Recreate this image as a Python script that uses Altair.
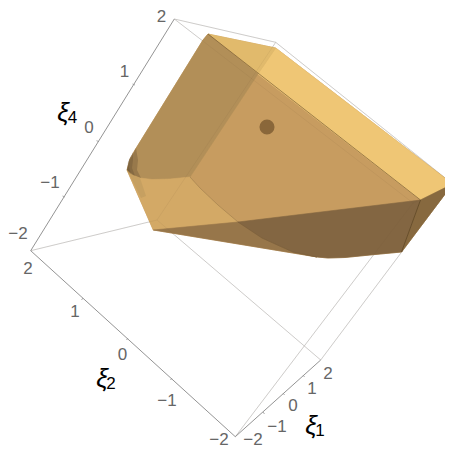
import altair as alt
import pandas as pd

# Projected view coordinates (horizontal, vertical)
P1 = (30.7, 250.7); P2 = (174.3, 19); P3 = (235.3, 436.7); P4 = (320.7, 360)
P5 = (157, 220); P7 = (452.7, 184); P9 = (275.7, 42.3); P10 = (413, 203)

axis_edges = [(P1, P2), (P1, P3), (P3, P4)]
box_edges = [(P1, P5), (P5, P4), (P5, P9), (P2, P9), (P2, P10), (P9, P7), (P7, P4), (P7, P10), (P3, P10)]
axis_ticks = [
    ((135, 85), (132.5, 84)), ((99, 141.7), (96.5, 140.7)), ((65, 197), (62.5, 196)),
    ((83, 298), (81.5, 300)), ((128, 338), (126.5, 340)), ((172, 378), (170.5, 380)),
    ((263, 412), (264.5, 414)), ((283, 393), (284.5, 395)), ((303, 375), (304.5, 377)),
]

left_curve = [(208, 34), (203, 40), (135, 150), (130, 159), (127, 170)]
lower_curve = [(127, 170), (133, 175), (140, 178), (152, 179.5), (170, 179), (190, 177)]
arc = [(190, 177), (200, 188), (218, 205), (238, 222), (262, 238), (293, 252), (317, 257)]

faces = [
    ("silhouette", "#C79C60", [(208, 34), (275.7, 48), (452.7, 184), (401.5, 252), (375, 254.5), (345, 257.5), (328, 258), (317, 257), (153.3, 230), (127, 170), (130, 159), (135, 150), (203, 40)]),
    ("top", "#EFC675", [(275.7, 48), (452.7, 184), (420.5, 200), (258, 74)]),
    ("topleft", "#E1BA6C", [(208, 34), (275.7, 48), (258, 74)]),
    ("left", "#B28F58", left_curve + lower_curve[1:] + [(258, 74)]),
    ("lowerlight", "#D3A966", lower_curve + arc[1:4] + [(153.3, 230)]),
    ("bottommid", "#97764A", [(153.3, 230), (238, 222)] + arc[4:]),
    ("dark", "#836642", arc[3:] + [(328, 258), (345, 257.5), (375, 254.5), (401.5, 252), (420.5, 200)]),
    ("right", "#87693F", [(420.5, 200), (452.7, 184), (401.5, 252)]),
]

shade_bands = [
    [(136, 148), (131, 158), (127, 170), (133, 175), (141, 178), (137, 170), (138, 160)],
    [(133, 152), (129, 160), (127, 170), (131, 174), (135, 176), (132, 168), (133, 160)],
    [(131, 156), (128, 162), (127, 170), (129, 173), (131, 174), (129, 167)],
]
lower_band = [(127, 170), (133, 175), (140, 178), (146, 196), (141, 198)]

edge_lines = [
    ((208, 34), (420.5, 200), "#6f5430", 0.7),
    ((420.5, 200), (401.5, 252), "#5f4828", 0.9),
]
arc_color = "#6b5232"

tick_labels = [
    ("2", 161.5, 17), ("1", 124.5, 72), ("0", 89, 128), ("−1", 50, 183), ("−2", 18, 234),
    ("2", 28, 269), ("1", 75, 312), ("0", 122.5, 355), ("−1", 167, 401), ("−2", 219, 440),
    ("2", 328, 374), ("1", 312, 389), ("0", 293, 406), ("−1", 277, 427), ("−2", 253, 440),
]
symbols = [("ξ", 63, 113), ("ξ", 102, 379), ("ξ", 311, 426)]
subscripts = [("4", 72.5, 118), ("2", 111, 384), ("1", 320, 431)]
dot = [(267, 127)]

xs = alt.Scale(domain=[8, 445], nice=False, zero=False)
ys = alt.Scale(domain=[448, 8], nice=False, zero=False)
X = alt.X("x:Q", scale=xs, axis=None)
Y = alt.Y("y:Q", scale=ys, axis=None)


def poly(points, color, opacity=1.0, stroke=True):
    df = pd.DataFrame([{"x": p[0], "y": p[1], "i": k} for k, p in enumerate(points + [points[0]])])
    return alt.Chart(df).mark_line(
        fill=color, stroke=color, strokeWidth=0.6 if stroke else 0, opacity=opacity, interpolate="linear"
    ).encode(x=X, y=Y, order=alt.Order("i:Q"))


def seg(points, color, width=1.0, opacity=1.0):
    df = pd.DataFrame([{"x": p[0], "y": p[1], "i": k} for k, p in enumerate(points)])
    return alt.Chart(df).mark_line(color=color, strokeWidth=width, opacity=opacity).encode(
        x=X, y=Y, order=alt.Order("i:Q")
    )


def text(rows, size, color, font, style=None):
    df = pd.DataFrame([{"t": r[0], "x": r[1], "y": r[2]} for r in rows])
    kw = dict(fontStyle=style) if style else {}
    return alt.Chart(df).mark_text(fontSize=size, color=color, font=font, align="center", baseline="middle", **kw).encode(
        x=X, y=Y, text="t:N"
    )


layers = []
for a, b in box_edges:
    layers.append(seg([a, b], "#d2d2d2", 0.9))
for a, b in axis_edges:
    layers.append(seg([a, b], "#949494", 1.0))
for a, b in axis_ticks:
    layers.append(seg([a, b], "#949494", 0.8))
for name, color, pts in faces:
    layers.append(poly(pts, color))
for band in shade_bands:
    layers.append(poly(band, "#5e4a30", 0.3, stroke=False))
layers.append(poly(lower_band, "#a98a55", 0.3, stroke=False))
for a, b in box_edges:
    layers.append(seg([a, b], "#6a5030", 0.8, 0.1))
layers.append(seg(arc, arc_color, 0.8, 0.4))
for a, b, c, o in edge_lines:
    layers.append(seg([a, b], c, 0.9, o))
layers.append(
    alt.Chart(pd.DataFrame([{"x": d[0], "y": d[1]} for d in dot]))
    .mark_circle(size=227, color="#8A673A", opacity=1)
    .encode(x=X, y=Y)
)
layers.append(text(tick_labels, 17, "#666666", "Liberation Sans"))
layers.append(text(symbols, 26, "#000000", "Liberation Sans", "italic"))
layers.append(text(subscripts, 17, "#000000", "Liberation Sans"))

chart = (
    alt.layer(*layers)
    .properties(
        width=437, height=440, padding=0, background="#ffffff",
        autosize=alt.AutoSizeParams(type="none"),
    )
    .configure_view(stroke=None)
)
chart.save("out.html", embed_options={"renderer": "svg", "actions": False})
